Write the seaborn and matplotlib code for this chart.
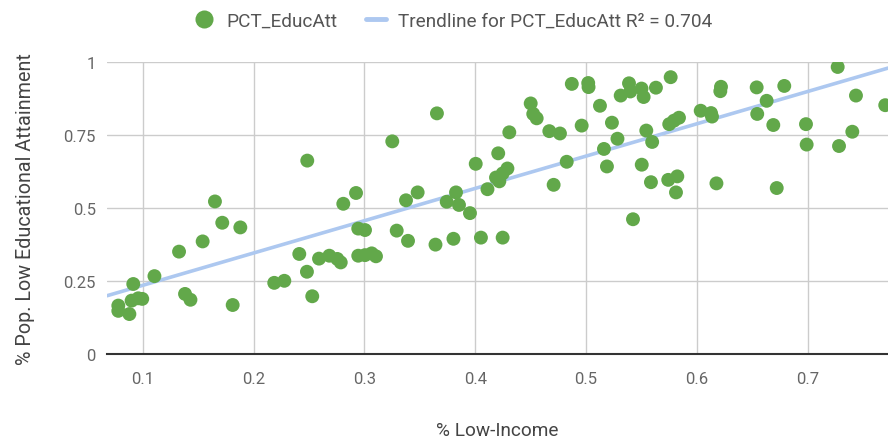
import seaborn as sns
import matplotlib
import matplotlib.pyplot as plt
from matplotlib.lines import Line2D
import pandas as pd

# values
pct_low_income = [
    0.078, 0.078, 0.088, 0.0915, 0.090, 0.096, 0.0996, 0.1106, 0.1328, 0.1382,
    0.1431, 0.1541, 0.1652, 0.1718, 0.1881, 0.1812, 0.2187, 0.2278, 0.2413, 0.2482,
    0.2530, 0.2485, 0.2591, 0.2684, 0.2756, 0.2787, 0.2810, 0.2925, 0.2945, 0.3006,
    0.2945, 0.3006, 0.3066, 0.3105, 0.3252, 0.3292, 0.3376, 0.3394, 0.3481, 0.3642,
    0.3655, 0.3804, 0.3743, 0.3827, 0.3854, 0.3953, 0.4005, 0.4052, 0.4111, 0.4208,
    0.4188, 0.4218, 0.4248, 0.4291, 0.4248, 0.4308, 0.4501, 0.4524, 0.4555, 0.4669,
    0.4765, 0.4708, 0.4826, 0.4872, 0.5020, 0.5023, 0.4961, 0.5126, 0.5234, 0.5284,
    0.5162, 0.5189, 0.5388, 0.5313, 0.5400, 0.5501, 0.5520, 0.5631, 0.5764, 0.5544,
    0.5597, 0.5503, 0.5424, 0.5586, 0.5742, 0.5824, 0.5812, 0.5751, 0.5794, 0.5839,
    0.6035, 0.6128, 0.6137, 0.6218, 0.6212, 0.6177, 0.6540, 0.6630, 0.6545, 0.6690,
    0.6789, 0.6721, 0.6985, 0.6991, 0.7271, 0.7436, 0.7403, 0.7283, 0.7700,
]
pct_educ_att = [
    0.166, 0.148, 0.137, 0.240, 0.183, 0.191, 0.189, 0.267, 0.351, 0.206,
    0.186, 0.386, 0.523, 0.450, 0.434, 0.168, 0.244, 0.251, 0.343, 0.282,
    0.198, 0.663, 0.327, 0.337, 0.326, 0.314, 0.515, 0.552, 0.430, 0.425,
    0.337, 0.339, 0.345, 0.335, 0.729, 0.423, 0.527, 0.388, 0.554, 0.375,
    0.825, 0.395, 0.522, 0.554, 0.511, 0.483, 0.652, 0.399, 0.565, 0.688,
    0.605, 0.592, 0.619, 0.636, 0.399, 0.760, 0.859, 0.823, 0.808, 0.764,
    0.756, 0.580, 0.659, 0.926, 0.929, 0.915, 0.783, 0.851, 0.793, 0.738,
    0.703, 0.643, 0.928, 0.886, 0.900, 0.910, 0.881, 0.913, 0.949, 0.766,
    0.727, 0.649, 0.462, 0.589, 0.597, 0.609, 0.554, 0.788, 0.800, 0.810,
    0.834, 0.826, 0.814, 0.916, 0.901, 0.585, 0.914, 0.868, 0.823, 0.785,
    0.919, 0.569, 0.788, 0.718, 0.984, 0.886, 0.762, 0.713, 0.853,
]
x_ticks = [0.1, 0.2, 0.3, 0.4, 0.5, 0.6, 0.7]
y_ticks = [0, 0.25, 0.5, 0.75, 1]
y_tick_labels = ["0", "0.25", "0.5", "0.75", "1"]
r_squared = 0.704

df = pd.DataFrame({"x": pct_low_income, "y": pct_educ_att})

sns.set_style("white")
matplotlib.rcParams["font.family"] = ["Roboto", "DejaVu Sans"]

POINT_COLOR = "#62a84a"
TREND_COLOR = "#adc8f0"

fig = plt.figure(figsize=(8.88, 4.39), dpi=100)
ax = fig.add_axes([0.1205, 0.1913, 0.8795, 0.6645])

ax.set_xlim(0.0678, 0.7725)
ax.set_ylim(0, 1)

# trendline across the full axis width
sns.regplot(data=df, x="x", y="y", ax=ax, scatter=False, ci=None, truncate=False,
            line_kws={"color": TREND_COLOR, "linewidth": 2.6, "zorder": 2})
sns.scatterplot(data=df, x="x", y="y", ax=ax, s=100, color=POINT_COLOR,
                edgecolor="none", linewidth=0, zorder=3)

ax.set_xlim(0.0678, 0.7725)
ax.set_ylim(0, 1)
ax.set_xticks(x_ticks)
ax.set_xticklabels([str(t) for t in x_ticks])
ax.set_yticks(y_ticks)
ax.set_yticklabels(y_tick_labels)

ax.grid(True, color="#cccccc", linewidth=1)
ax.set_axisbelow(True)
for side in ["top", "right", "left"]:
    ax.spines[side].set_visible(False)
ax.spines["bottom"].set_color("#333333")
ax.spines["bottom"].set_linewidth(1.5)
ax.spines["bottom"].set_zorder(4)

ax.tick_params(axis="both", length=0, labelsize=12, labelcolor="#666666")
ax.tick_params(axis="x", pad=12)
ax.tick_params(axis="y", pad=8)

ax.set_xlabel("% Low-Income", fontsize=13.7, color="#444444", va="center")
ax.xaxis.set_label_coords(0.5, -0.2605)
ax.set_ylabel("% Pop. Low Educational Attainment", fontsize=14.2, color="#444444", va="center")
ax.yaxis.set_label_coords(-0.104, 0.5)

handles = [
    Line2D([], [], marker="o", linestyle="none", markersize=13,
           markerfacecolor=POINT_COLOR, markeredgecolor="none"),
    Line2D([], [], color=TREND_COLOR, linewidth=3.5),
]
labels = ["PCT_EducAtt", f"Trendline for PCT_EducAtt R\u00b2 = {r_squared}"]
fig.legend(handles, labels, loc="upper center", bbox_to_anchor=(0.51, 1.01), ncol=2,
           frameon=False, fontsize=13.7, handlelength=1.1, handletextpad=0.6,
           columnspacing=1.5, labelcolor="#555555")

fig.savefig("out.png", dpi=100)
plt.close(fig)
